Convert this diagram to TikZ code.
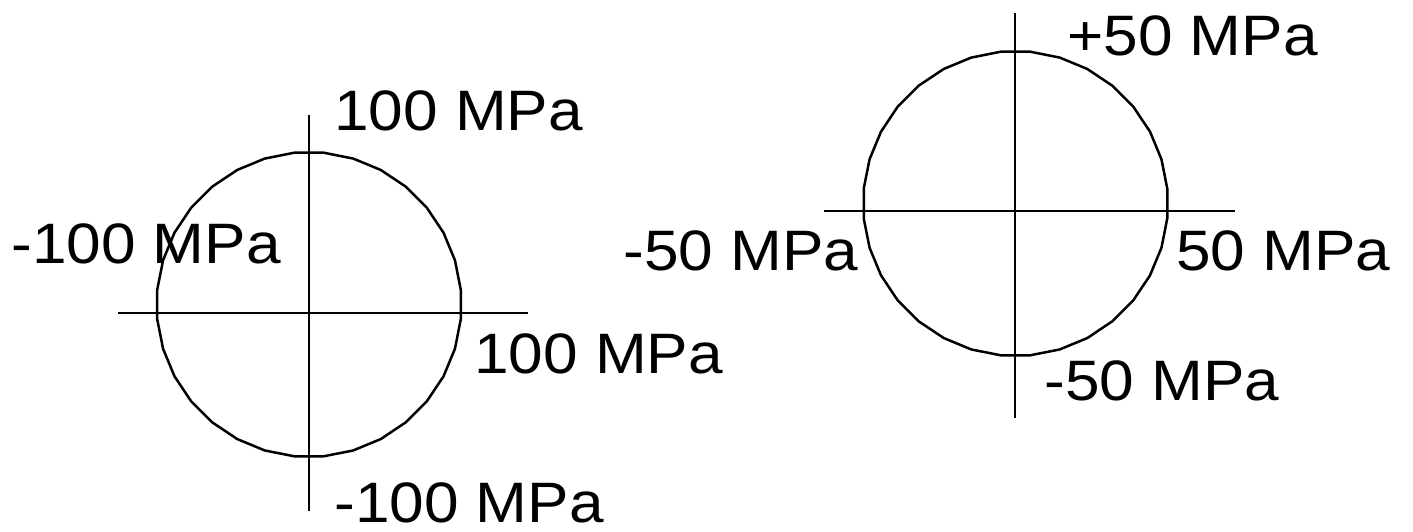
\documentclass[tikz,border=0pt]{standalone}
\usepackage{fontspec}
\setmainfont{Liberation Sans}
\usetikzlibrary{shapes.geometric}

\begin{document}
\begin{tikzpicture}[x=1pt,y=1pt,line width=2.5pt,
	ring/.style = {draw, regular polygon, regular polygon sides=32, minimum size=305pt, inner sep=0pt},
	lbl/.style = {anchor=base west, inner sep=0pt, font=\fontsize{57}{60}\selectfont, xscale=1.09, transform shape}]
		\useasboundingbox (0,0) rectangle (1413,-531);
		%Left circle: +-100 MPa
		\node[ring] (lc) at (309,-304.5) {};
		\coordinate (lw) at (118,-313);
		\coordinate (le) at (528,-313);
		\coordinate (ln) at (309,-115);
		\coordinate (ls) at (309,-511);
		\draw (lw) -- (le); %horizontal axis
		\draw (ln) -- (ls); %vertical axis
		\node[lbl] (lt) at (333,-130) {100 MPa};
		\node[lbl] (ll) at (10,-263) {-100 MPa};
		\node[lbl] (lr) at (473,-373) {100 MPa};
		\node[lbl] (lb) at (333,-522) {-100 MPa};
		
		%Right circle: +-50 MPa
		\node[ring] (rc) at (1015.5,-203.5) {};
		\coordinate (rw) at (824,-211);
		\coordinate (re) at (1235,-211);
		\coordinate (rn) at (1015,-13);
		\coordinate (rs) at (1015,-418);
		\draw (rw) -- (re); %horizontal axis
		\draw (rn) -- (rs); %vertical axis
		\node[lbl] (rt) at (1066,-55) {+50 MPa};
		\node[lbl] (rl) at (622,-270) {-50 MPa};
		\node[lbl] (rr) at (1175,-270) {50 MPa};
		\node[lbl] (rb) at (1043,-400) {-50 MPa};
	\end{tikzpicture}
\end{document}
